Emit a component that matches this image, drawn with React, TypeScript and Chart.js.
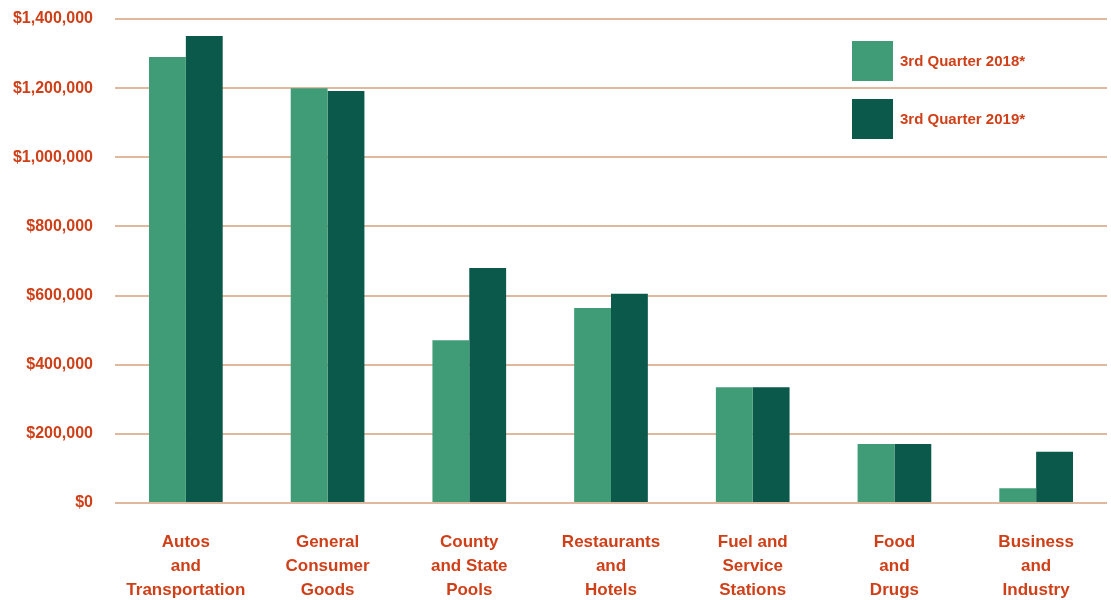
import React, { useEffect, useRef } from "react";
import { Chart, registerables } from "chart.js";

Chart.register(...registerables);

const categories: string[][] = [
  ["Autos", "and", "Transportation"],
  ["General", "Consumer", "Goods"],
  ["County", "and State", "Pools"],
  ["Restaurants", "and", "Hotels"],
  ["Fuel and", "Service", "Stations"],
  ["Food", "and", "Drugs"],
  ["Business", "and", "Industry"],
];
const q2018: number[] = [1290000, 1200000, 471000, 564000, 335000, 171000, 43000];
const q2019: number[] = [1351000, 1192000, 680000, 605000, 335000, 171000, 148000];
const seriesLabels = ["3rd Quarter 2018*", "3rd Quarter 2019*"];
const yTicks: number[] = [0, 200000, 400000, 600000, 800000, 1000000, 1200000, 1400000];

const TEXT = "#cf4019";
const GRID = "#dfb89d";
const C2018 = "#3f9c77";
const C2019 = "#0b594a";
const FONT = "'Liberation Sans', Arial, sans-serif";

const legendPlugin = {
  id: "boxLegend",
  afterDraw(chart: any) {
    const { ctx, chartArea } = chart;
    const x = chartArea.right - 255;
    let y = chartArea.top + 22;
    ctx.save();
    chart.data.datasets.forEach((ds: any) => {
      ctx.fillStyle = ds.backgroundColor;
      ctx.fillRect(x, y, 41, 40);
      ctx.fillStyle = TEXT;
      ctx.font = `bold 15px ${FONT}`;
      ctx.textBaseline = "middle";
      ctx.textAlign = "left";
      ctx.fillText(ds.label, x + 48, y + 21);
      y += 58;
    });
    ctx.restore();
  },
};

export default function App() {
  const ref = useRef<HTMLCanvasElement>(null);
  useEffect(() => {
    document.body.style.margin = "0";
    const chart = new Chart(ref.current!, {
      type: "bar",
      data: {
        labels: categories,
        datasets: [
          { label: seriesLabels[0], data: q2018, backgroundColor: C2018 },
          { label: seriesLabels[1], data: q2019, backgroundColor: C2019 },
        ],
      },
      options: {
        animation: false,
        responsive: false,
        maintainAspectRatio: false,
        layout: { padding: { top: 19, right: 4, left: 0, bottom: 0 } },
        plugins: { legend: { display: false }, tooltip: { enabled: false } },
        datasets: { bar: { categoryPercentage: 0.52, barPercentage: 1 } },
        scales: {
          x: {
            grid: { display: false },
            border: { display: false },
            ticks: {
              color: TEXT,
              font: { family: FONT, size: 17, weight: "bold", lineHeight: 1.41 },
              padding: 19,
              maxRotation: 0,
              autoSkip: false,
            },
            afterFit: (s: any) => { s.height = 97; s.paddingLeft = 0; s.paddingRight = 0; },
          },
          y: {
            min: 0,
            max: 1400000,
            afterBuildTicks: (s: any) => { s.ticks = yTicks.map((v) => ({ value: v })); },
            grid: { color: GRID, lineWidth: 2, drawTicks: false },
            border: { display: false },
            ticks: {
              color: TEXT,
              font: { family: FONT, size: 16, weight: "bold" },
              padding: 22,
              callback: (v: any) => "$" + Number(v).toLocaleString("en-US"),
            },
            afterFit: (s: any) => { s.width = 115; s.paddingTop = 0; s.paddingBottom = 0; },
          },
        },
      },
      plugins: [legendPlugin],
    });
    return () => chart.destroy();
  }, []);
  return (
    <div style={{ width: 1111, height: 600, background: "#fff" }}>
      <canvas ref={ref} width={1111} height={600} />
    </div>
  );
}
